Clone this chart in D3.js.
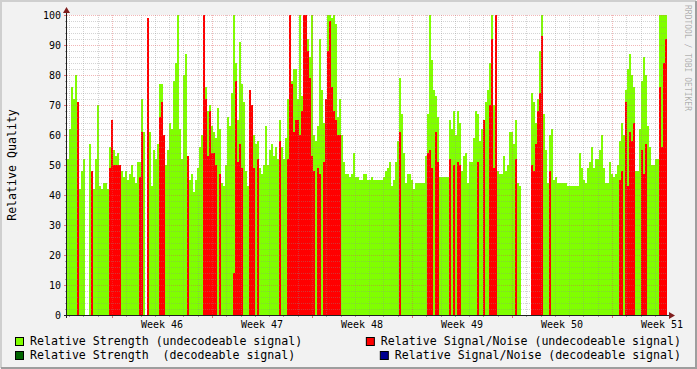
<!DOCTYPE html>
<html>
<head>
<meta charset="utf-8">
<script src="https://cdn.jsdelivr.net/npm/d3@7/dist/d3.min.js"></script>
<style>
body { margin: 0; background: #f2f2f2; }
text { font-family: "DejaVu Sans Mono", monospace; white-space: pre; }
</style>
</head>
<body>
<svg id="chart" width="697" height="369"></svg>
<script>
// one value per sample (~3.4 h); null = no data
var strength = [
  52, 62, 76, 72, 80, 43, 42, 48, 52, null,
  null, 57, 42, 42, 52, 70, 43, 42, 44, 44,
  42, 56, 56, 55, 53, 54, 50, 48, 46, 48,
  45, 47, 50, 46, 44, 51, 51, 72, 61, null,
  61, 61, 43, 55, 52, 57, 77, 77, 52, 50,
  55, 64, 62, 78, 84, 100, 62, 52, 80, 87,
  47, 45, 47, 41, 45, 49, 56, 60, 94, 76,
  68, 70, 63, 61, 59, 69, 62, 44, 43, 50,
  66, 63, 74, 100, 84, 65, 91, 77, 71, 48,
  43, 46, 60, 60, 57, 58, 49, 47, 50, 63,
  50, 55, 57, 53, 56, 52, 65, 56, 52, 59,
  72, 72, 78, 82, 82, 72, 100, 73, 100, 92,
  92, 86, 100, 60, 58, 63, 92, 75, 64, 58,
  100, 100, 99, 100, 97, 66, 72, 60, 51, 47,
  47, 46, 47, 54, 46, 46, 45, 45, 47, 47,
  45, 45, 46, 45, 45, 45, 45, 45, 46, 48,
  49, 51, 43, 45, 51, 58, 79, 67, 54, 44,
  47, 47, 45, 42, 44, 44, 44, 44, 44, 53,
  67, 100, 85, 75, 73, 66, 46, 46, 46, 46,
  46, 65, 62, 68, 60, 68, 64, 48, 53, 54,
  44, 51, 51, 59, 68, 67, 58, 62, 55, 71,
  75, 84, 100, 70, 62, 48, 47, 47, 53, 48,
  50, 61, 61, 57, 65, 44, 43, null, null, null,
  null, null, 74, 71, 64, 72, 88, 100, 67, 55,
  44, 60, 62, 45, 46, 44, 44, 44, 44, 44,
  43, 43, 43, 43, 43, 43, 54, 49, 45, 44,
  49, 51, 56, 49, 52, 52, 55, 60, 49, 44,
  44, 51, 47, 46, 47, 50, 58, 64, 60, 75,
  82, 87, 80, 76, 48, 48, 62, 78, 86, 80,
  63, 56, 50, 50, 52, 52, 100, 100, 100, 100
];

var snr = [
  0, 0, 0, 0, 0, 71, 0, 0, 0, 0,
  0, 0, 48, 0, 0, 0, 0, 0, 0, 0,
  0, 49, 65, 50, 50, 50, 50, 0, 0, 0,
  0, 0, 0, 0, 0, 0, 46, 61, 0, 0,
  99, 0, 0, 0, 0, 0, 66, 71, 60, 0,
  0, 0, 0, 0, 0, 0, 0, 0, 0, 0,
  53, 0, 0, 0, 0, 0, 0, 0, 100, 72,
  53, 68, 54, 54, 50, 0, 47, 0, 0, 0,
  0, 0, 0, 14, 78, 51, 57, 49, 0, 0,
  0, 75, 70, 49, 0, 52, 0, 0, 0, 0,
  0, 0, 0, 0, 0, 0, 58, 0, 0, 0,
  52, 100, 77, 61, 65, 65, 60, 68, 100, 100,
  88, 79, 53, 48, 0, 49, 47, 0, 51, 72,
  88, 98, 76, 68, 65, 60, 60, 0, 0, 0,
  0, 0, 0, 0, 0, 0, 0, 0, 0, 0,
  0, 0, 0, 0, 0, 0, 0, 0, 0, 0,
  0, 0, 0, 0, 0, 0, 61, 0, 0, 0,
  0, 0, 0, 0, 0, 0, 0, 0, 0, 0,
  54, 55, 49, 0, 61, 51, 0, 0, 0, 0,
  0, 52, 0, 50, 0, 51, 50, 0, 0, 0,
  0, 0, 0, 0, 0, 51, 0, 0, 65, 0,
  0, 70, 92, 49, 100, 0, 0, 0, 0, 0,
  0, 0, 0, 0, 52, 0, 0, 0, 0, 0,
  0, 0, 50, 48, 57, 68, 74, 93, 0, 0,
  0, 48, 0, 0, 0, 0, 0, 0, 0, 0,
  0, 0, 0, 0, 0, 0, 0, 0, 0, 0,
  0, 0, 0, 0, 0, 0, 0, 0, 0, 0,
  0, 0, 0, 0, 0, 0, 45, 48, 0, 71,
  43, 61, 58, 64, 0, 0, 0, 55, 47, 57,
  0, 0, 0, 0, 0, 0, 76, 56, 84, 92
];

var yTicks = [0, 10, 20, 30, 40, 50, 60, 70, 80, 90, 100];
var weekLabels = ["Week 46", "Week 47", "Week 48", "Week 49", "Week 50", "Week 51"];
var legendLabels = [
  "Relative Strength (undecodeable signal)",
  "Relative Signal/Noise (undecodeable signal)",
  "Relative Strength  (decodeable signal)",
  "Relative Signal/Noise (decodeable signal)"
];
var legendColors = ["#80ff00", "#ff0000", "#006400", "#000090"];

var svg = d3.select("#chart"),
    W = +svg.attr("width"),
    H = +svg.attr("height"),
    plotL = 67, plotR = 667, plotT = 15, plotB = 315;

var start = Date.UTC(2011, 10, 10, 20, 24),
    end = start + 42 * 864e5,
    step = (end - start) / strength.length;

var x = d3.scaleUtc().domain([start, end]).range([plotL, plotR]),
    y = d3.scaleLinear().domain([0, 100]).range([plotB, plotT]);

function t(i) { return start + i * step; }

var gridCol = "rgba(143,143,143,0.38)",
    mgridCol = "rgba(222,80,80,0.42)";

// frame
svg.append("rect").attr("width", W).attr("height", H).attr("fill", "#f2f2f2");
svg.append("path").attr("d", "M1,"+(H-1)+"V1H"+(W-1)).attr("stroke", "#cfcfcf").attr("stroke-width", 2).attr("fill", "none");
svg.append("path").attr("d", "M1,"+(H-1)+"H"+(W-1)+"V1").attr("stroke", "#9e9e9e").attr("stroke-width", 2).attr("fill", "none");
svg.append("rect").attr("x", plotL).attr("y", plotT).attr("width", plotR - plotL).attr("height", plotB - plotT).attr("fill", "#fff");

// areas drawn column by column like rrdtool
var bars = svg.append("g").attr("shape-rendering", "crispEdges");

bars.selectAll(".str")
    .data(strength.map(function(v, i) { return {i: i, v: v}; }).filter(function(d) { return d.v != null; }))
    .enter().append("rect")
    .attr("class", "str")
    .attr("x", function(d) { return x(t(d.i)); })
    .attr("width", function(d) { return x(t(d.i + 1)) - x(t(d.i)); })
    .attr("y", function(d) { return y(d.v); })
    .attr("height", function(d) { return y(0) - y(d.v); })
    .attr("fill", legendColors[0]);

bars.selectAll(".snr")
    .data(snr.map(function(v, i) { return {i: i, v: v}; }).filter(function(d) { return d.v > 0; }))
    .enter().append("rect")
    .attr("class", "snr")
    .attr("x", function(d) { return x(t(d.i)); })
    .attr("width", function(d) { return x(t(d.i + 1)) - x(t(d.i)); })
    .attr("y", function(d) { return y(d.v); })
    .attr("height", function(d) { return y(0) - y(d.v); })
    .attr("fill", legendColors[1]);

// grid on top
var grid = svg.append("g").attr("stroke-dasharray", "1,1").attr("shape-rendering", "crispEdges");
var minorY = d3.range(2, 100, 2).filter(function(v) { return v % 10 != 0; });
var days = d3.utcDay.range(start, end).filter(function(d) { return d.getUTCDay() != 1; });
var mondays = d3.utcMonday.range(start, end);

grid.selectAll(".hmin").data(minorY).enter().append("line")
    .attr("x1", plotL).attr("x2", plotR)
    .attr("y1", function(d) { return Math.round(y(d)) + 0.5; })
    .attr("y2", function(d) { return Math.round(y(d)) + 0.5; })
    .attr("stroke", gridCol);
grid.selectAll(".vmin").data(days).enter().append("line")
    .attr("y1", plotT).attr("y2", plotB)
    .attr("x1", function(d) { return Math.round(x(d)) + 0.5; })
    .attr("x2", function(d) { return Math.round(x(d)) + 0.5; })
    .attr("stroke", gridCol);
grid.selectAll(".hmaj").data(yTicks.slice(1)).enter().append("line")
    .attr("x1", plotL).attr("x2", plotR)
    .attr("y1", function(d) { return Math.round(y(d)) + 0.5; })
    .attr("y2", function(d) { return Math.round(y(d)) + 0.5; })
    .attr("stroke", mgridCol);
grid.selectAll(".vmaj").data(mondays).enter().append("line")
    .attr("y1", plotT).attr("y2", plotB)
    .attr("x1", function(d) { return Math.round(x(d)) + 0.5; })
    .attr("x2", function(d) { return Math.round(x(d)) + 0.5; })
    .attr("stroke", mgridCol);

// small ticks outside the plot
var ticks = svg.append("g").attr("shape-rendering", "crispEdges");
ticks.selectAll(".dt").data(days).enter().append("line")
    .attr("x1", function(d) { return Math.round(x(d)) + 0.5; })
    .attr("x2", function(d) { return Math.round(x(d)) + 0.5; })
    .attr("y1", plotB).attr("y2", plotB + 2).attr("stroke", "rgba(143,143,143,0.8)");
ticks.selectAll(".wt").data(mondays).enter().append("line")
    .attr("x1", function(d) { return Math.round(x(d)) + 0.5; })
    .attr("x2", function(d) { return Math.round(x(d)) + 0.5; })
    .attr("y1", plotB).attr("y2", plotB + 3).attr("stroke", "rgba(222,80,80,0.8)");
ticks.selectAll(".yt").data(minorY).enter().append("line")
    .attr("x1", plotL - 2).attr("x2", plotL)
    .attr("y1", function(d) { return Math.round(y(d)) + 0.5; })
    .attr("y2", function(d) { return Math.round(y(d)) + 0.5; })
    .attr("stroke", "rgba(143,143,143,0.8)");
ticks.selectAll(".ymt").data(yTicks).enter().append("line")
    .attr("x1", plotL - 3).attr("x2", plotL)
    .attr("y1", function(d) { return Math.round(y(d)) + 0.5; })
    .attr("y2", function(d) { return Math.round(y(d)) + 0.5; })
    .attr("stroke", "rgba(222,80,80,0.8)");

// axes
svg.append("line").attr("x1", plotL - 3).attr("x2", plotR + 3)
    .attr("y1", plotB + 0.5).attr("y2", plotB + 0.5).attr("stroke", "#1f1f1f");
svg.append("line").attr("x1", plotL - 0.5).attr("x2", plotL - 0.5)
    .attr("y1", plotB + 3).attr("y2", plotT - 3).attr("stroke", "#1f1f1f");
svg.append("path").attr("d", "M" + (plotR + 2) + "," + (plotB - 3) + "L" + (plotR + 8) + "," + (plotB + 0.5) + "L" + (plotR + 2) + "," + (plotB + 4) + "Z")
    .attr("fill", "#801f1f");
svg.append("path").attr("d", "M" + (plotL - 4) + "," + (plotT - 2) + "L" + (plotL - 0.5) + "," + (plotT - 8) + "L" + (plotL + 3) + "," + (plotT - 2) + "Z")
    .attr("fill", "#801f1f");

// tick labels
svg.selectAll(".ylab").data(yTicks).enter().append("text")
    .attr("x", plotL - 6)
    .attr("y", function(d) { return y(d); })
    .attr("dy", "0.36em")
    .attr("text-anchor", "end")
    .attr("font-size", 10)
    .text(function(d) { return d; });

svg.selectAll(".xlab").data(mondays).enter().append("text")
    .attr("x", function(d) { return x(d3.utcHour.offset(d, 84)); })
    .attr("y", plotB + 13)
    .attr("text-anchor", "middle")
    .attr("font-size", 10)
    .text(function(d, i) { return weekLabels[i]; });

svg.append("text")
    .attr("transform", "translate(16,165) rotate(-90)")
    .attr("text-anchor", "middle")
    .attr("font-size", 11.6)
    .text("Relative Quality");

svg.append("text")
    .attr("transform", "translate(685,5) rotate(90)")
    .attr("font-size", 8)
    .attr("fill", "rgba(0,0,0,0.3)")
    .text("RRDTOOL / TOBI OETIKER");

// legend
var legend = svg.append("g");
legendLabels.forEach(function(label, i) {
    var row = Math.floor(i / 2), col = i % 2,
        base = 345 + row * 14;
    var txt = legend.append("text")
        .attr("y", base)
        .attr("font-size", 11.6)
        .text(label);
    var tx;
    if (col == 0) {
        tx = 30;
        txt.attr("x", tx);
    } else {
        tx = 681 - txt.node().getComputedTextLength();
        txt.attr("x", tx);
    }
    legend.append("rect")
        .attr("x", tx - 14.5).attr("y", base - 7.5)
        .attr("width", 8).attr("height", 8)
        .attr("fill", legendColors[i])
        .attr("stroke", "#000");
});
</script>
</body>
</html>
